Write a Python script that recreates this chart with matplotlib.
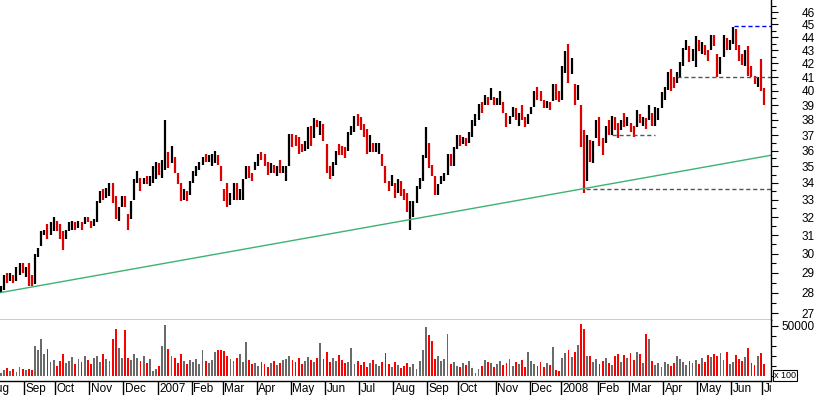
import numpy as np
import pandas as pd
import matplotlib
matplotlib.use("Agg")
import matplotlib.pyplot as plt
from matplotlib.ticker import FixedLocator, NullFormatter, FuncFormatter

plt.rcParams['font.family'] = ['Liberation Sans', 'DejaVu Sans']

# two-day bars, Aug 2006 - Jul 2008
close = [28.2, 28.8, 28.7, 28.8, 28.6, 29.2, 29.4, 29.1, 29.2, 28.6,
         28.5, 29.8, 30.2, 31.1, 31.2, 31.0, 31.5, 31.8, 31.4, 31.0,
         30.6, 31.1, 31.5, 31.6, 31.4, 31.6, 31.5, 31.9, 31.8, 31.5,
         31.7, 32.8, 33.4, 33.2, 33.5, 33.9, 33.0, 32.2, 32.4, 33.0,
         32.8, 31.6, 32.8, 34.0, 34.3, 33.8, 34.1, 34.0, 34.2, 34.8,
         34.9, 34.7, 35.2, 35.6, 35.2, 36.0, 34.8, 34.1, 33.2, 33.4,
         33.1, 34.0, 34.6, 34.9, 35.0, 35.5, 35.4, 35.6, 35.7, 35.9,
         35.3, 34.3, 33.2, 33.0, 33.2, 33.8, 33.3, 33.5, 34.0, 34.9,
         34.5, 34.3, 35.2, 35.7, 35.6, 35.3, 34.8, 35.0, 34.8, 34.9,
         34.7, 34.8, 34.9, 36.9, 36.8, 36.5, 36.1, 36.0, 36.5, 37.3,
         37.0, 38.0, 37.7, 37.8, 36.9, 35.0, 34.4, 35.1, 35.9, 35.8,
         35.7, 35.6, 37.0, 37.5, 38.2, 38.0, 37.5, 37.1, 36.2, 36.6,
         36.1, 36.2, 36.4, 35.2, 34.3, 33.8, 34.2, 33.4, 34.0, 33.6,
         33.2, 32.5, 32.7, 32.8, 33.7, 34.2, 35.5, 37.3, 35.2, 34.6,
         33.6, 33.8, 34.3, 34.5, 35.6, 35.3, 36.1, 36.9, 36.5, 36.7,
         36.4, 37.1, 37.9, 38.3, 39.0, 38.7, 39.6, 39.2, 40.0, 39.2,
         39.4, 39.9, 38.7, 37.8, 38.1, 38.8, 38.1, 38.3, 38.2, 37.7,
         38.3, 38.6, 39.9, 39.6, 39.4, 39.2, 39.3, 38.9, 40.4, 40.2,
         39.5, 41.6, 42.7, 42.0, 42.3, 39.3, 39.9, 36.6, 34.5, 36.4,
         35.6, 36.2, 37.7, 36.6, 36.0, 37.4, 37.3, 38.1, 37.6, 37.0,
         37.8, 37.7, 38.0, 37.5, 37.1, 38.5, 38.0, 38.1, 37.8, 38.3,
         37.9, 38.1, 38.6, 39.8, 40.2, 41.2, 40.5, 40.3, 41.2, 41.9,
         43.0, 43.6, 42.4, 42.8, 43.9, 43.2, 43.4, 42.8, 42.4, 44.0,
         43.5, 41.3, 42.3, 44.0, 43.4, 43.6, 44.6, 43.3, 42.5, 42.3,
         42.8, 41.4, 41.2, 40.8, 40.9, 40.5, 39.2]

high = [28.3, 28.9, 29.0, 29.0, 28.9, 29.3, 29.5, 29.5, 29.3, 29.5,
        28.9, 30.0, 30.3, 31.2, 31.3, 31.6, 31.7, 32.0, 31.8, 31.6,
        31.2, 31.3, 31.7, 31.8, 31.7, 31.8, 31.7, 32.0, 32.0, 31.8,
        31.9, 32.9, 33.5, 33.6, 33.7, 34.0, 34.0, 33.2, 32.6, 33.2,
        33.2, 32.2, 32.9, 34.2, 34.7, 34.3, 34.3, 34.4, 34.4, 35.0,
        35.3, 35.2, 35.4, 38.0, 35.9, 36.3, 35.6, 34.6, 34.0, 33.6,
        33.5, 34.1, 34.7, 35.0, 35.3, 35.6, 35.8, 35.7, 35.8, 36.0,
        35.7, 35.0, 33.6, 34.0, 33.4, 34.0, 34.0, 33.6, 34.2, 35.0,
        35.0, 34.6, 35.3, 35.8, 35.9, 35.8, 35.3, 35.2, 35.1, 35.0,
        35.4, 35.0, 35.0, 37.1, 37.1, 37.0, 36.9, 36.4, 36.6, 37.5,
        37.6, 38.1, 38.0, 37.9, 37.7, 36.4, 35.0, 35.3, 36.0, 36.4,
        36.3, 36.2, 37.2, 37.6, 38.3, 38.4, 38.2, 37.7, 37.4, 37.0,
        36.5, 36.5, 36.5, 35.8, 35.0, 34.1, 34.5, 34.0, 34.2, 34.1,
        33.6, 33.4, 32.9, 32.9, 33.8, 34.3, 35.7, 37.5, 36.5, 35.1,
        34.4, 33.9, 34.4, 34.6, 35.8, 35.8, 36.2, 37.0, 37.0, 36.9,
        36.8, 37.2, 38.0, 38.4, 39.1, 39.2, 39.7, 39.6, 40.2, 39.6,
        39.5, 40.0, 39.2, 38.5, 38.3, 38.9, 38.8, 38.5, 39.0, 38.2,
        38.4, 38.9, 40.0, 40.3, 40.0, 39.4, 39.3, 39.2, 40.5, 40.5,
        40.0, 41.8, 42.9, 43.5, 42.4, 40.5, 40.4, 39.0, 37.3, 37.0,
        36.7, 36.6, 38.0, 38.2, 36.8, 37.6, 38.0, 38.3, 38.2, 37.8,
        38.0, 38.5, 38.2, 37.8, 37.6, 38.7, 38.4, 38.2, 38.1, 39.0,
        38.5, 38.9, 38.8, 39.9, 40.3, 41.4, 41.6, 41.0, 41.4, 42.1,
        43.2, 43.8, 43.3, 43.1, 44.1, 43.8, 43.6, 43.4, 43.0, 44.2,
        44.2, 42.7, 42.5, 44.2, 43.9, 43.8, 44.8, 44.6, 43.4, 42.7,
        43.0, 43.3, 41.8, 41.1, 41.0, 42.3, 40.2]

low = [28.0, 28.1, 28.5, 28.6, 28.5, 28.6, 28.9, 29.0, 28.8, 28.3,
       28.3, 28.4, 29.8, 30.4, 31.0, 30.8, 31.0, 31.2, 31.2, 30.8,
       30.2, 30.8, 31.2, 31.3, 31.3, 31.4, 31.3, 31.6, 31.7, 31.4,
       31.5, 31.7, 32.8, 33.0, 33.1, 33.2, 32.8, 31.9, 31.8, 32.6,
       32.6, 31.3, 31.9, 33.0, 34.0, 33.5, 33.9, 33.9, 33.8, 34.0,
       34.2, 34.5, 34.3, 34.8, 34.9, 35.2, 34.6, 33.9, 32.9, 33.0,
       32.9, 33.3, 34.0, 34.4, 34.8, 35.1, 35.3, 35.3, 35.0, 35.2,
       35.1, 34.1, 32.9, 32.6, 32.7, 33.0, 33.0, 33.0, 33.0, 34.2,
       34.3, 34.1, 34.8, 35.0, 35.4, 35.0, 34.5, 34.6, 34.6, 34.4,
       34.6, 34.6, 34.1, 35.0, 36.2, 36.3, 35.8, 35.9, 36.0, 36.1,
       36.3, 36.8, 37.5, 37.0, 36.6, 34.6, 34.2, 34.4, 35.1, 35.7,
       35.7, 35.5, 36.0, 37.0, 37.2, 37.6, 37.3, 36.9, 35.8, 35.9,
       35.9, 35.9, 35.8, 35.0, 34.0, 33.5, 33.8, 33.1, 33.4, 33.2,
       33.0, 32.3, 31.3, 32.0, 32.8, 33.6, 34.1, 35.5, 34.9, 34.4,
       33.3, 33.3, 33.9, 34.1, 34.5, 35.0, 35.0, 36.1, 36.3, 36.4,
       36.3, 36.5, 36.9, 37.6, 38.0, 38.5, 39.0, 39.0, 39.4, 39.0,
       39.0, 39.0, 38.5, 37.5, 37.7, 38.2, 38.0, 37.6, 38.0, 37.5,
       37.7, 38.4, 38.9, 39.4, 39.3, 38.8, 38.8, 38.7, 39.3, 39.4,
       39.2, 39.4, 41.3, 40.6, 41.2, 39.0, 39.4, 36.2, 33.4, 34.1,
       35.3, 35.2, 36.8, 36.3, 35.7, 36.5, 37.0, 37.0, 37.3, 36.8,
       37.3, 37.5, 37.6, 37.2, 36.9, 37.5, 37.8, 37.6, 37.4, 38.0,
       37.6, 37.6, 38.0, 38.8, 39.4, 40.1, 40.0, 40.2, 40.6, 41.0,
       41.8, 43.0, 42.1, 42.2, 41.7, 42.9, 42.7, 42.6, 42.2, 43.0,
       43.3, 41.0, 41.2, 42.5, 43.0, 43.0, 43.5, 43.0, 42.2, 41.9,
       41.8, 41.1, 41.0, 40.5, 40.3, 40.0, 39.0]

# volume, in hundreds of shares
volume = [3000, 6000, 8000, 5000, 7000, 4000, 9000, 7000, 6000, 7000,
          6000, 30000, 26000, 37000, 22000, 27000, 14000, 16000, 10000, 15000,
          22000, 13000, 15000, 19000, 12000, 17000, 14000, 20000, 16000, 12000,
          18000, 20000, 14000, 22000, 17000, 15000, 37000, 47000, 28000, 18000,
          46000, 18000, 16000, 22000, 18000, 15000, 20000, 13000, 17000, 5000,
          7000, 10000, 30000, 51000, 27000, 20000, 18000, 13000, 22000, 15000,
          12000, 16000, 14000, 17000, 12000, 26000, 15000, 13000, 16000, 24000,
          26000, 26000, 25000, 20000, 17000, 15000, 18000, 22000, 14000, 34000,
          16000, 12000, 13000, 10000, 14000, 12000, 9000, 13000, 15000, 11000,
          13000, 16000, 17000, 20000, 16000, 14000, 18000, 12000, 15000, 19000,
          16000, 14000, 18000, 33000, 17000, 24000, 14000, 18000, 15000, 21000,
          16000, 13000, 14000, 28000, 12000, 15000, 11000, 14000, 9000, 13000,
          16000, 12000, 10000, 14000, 23000, 12000, 9000, 14000, 11000, 8000,
          10000, 13000, 9000, 12000, 7000, 15000, 26000, 49000, 41000, 35000,
          17000, 20000, 15000, 17000, 42000, 12000, 14000, 10000, 9000, 13000,
          11000, 15000, 8000, 3000, 7000, 10000, 16000, 14000, 13000, 9000,
          12000, 15000, 11000, 13000, 17000, 10000, 14000, 12000, 16000, 9000,
          24000, 15000, 12000, 10000, 14000, 9000, 13000, 11000, 29000, 6000,
          5000, 18000, 23000, 26000, 19000, 24000, 31000, 52000, 47000, 20000,
          20000, 14000, 17000, 12000, 15000, 18000, 13000, 11000, 20000, 22000,
          14000, 21000, 18000, 23000, 16000, 24000, 22000, 13000, 42000, 37000,
          15000, 11000, 13000, 9000, 14000, 12000, 10000, 13000, 20000, 17000,
          14000, 11000, 15000, 13000, 16000, 12000, 18000, 14000, 21000, 19000,
          22000, 20000, 23000, 16000, 24000, 12000, 14000, 21000, 17000, 15000,
          19000, 28000, 13000, 11000, 20000, 23000, 12000]

x_end = 248.3
# trend line and support / resistance levels (bar index, price)
trend_x = [0, x_end]
trend_y = [28.0, 35.7]
levels = [(218, x_end, 41.0, '#555555'),
          (197, 211, 37.0, '#555555'),
          (188.5, x_end, 33.65, '#555555'),
          (236.5, x_end, 44.85, '#0000ff')]

n = len(close)
idx = np.arange(n)
dates = pd.date_range("2006-08-11", periods=n, freq="2B")
close_a = np.array(close)
down = np.r_[False, close_a[1:] < close_a[:-1]]
price_col = np.where(down, '#dd0000', '#000000')
vol_col = np.where(down, '#ff0000', '#6a6a6a')

W, H = 817, 395
fig = plt.figure(figsize=(W / 100, H / 100), dpi=100)
right = 771 / W
ax = fig.add_axes([0, (H - 320) / H, right, 320 / H])
axv = fig.add_axes([0, 14 / H, right, 61 / H])
axd = fig.add_axes([0, 0, right, 14 / H])

xlim = (-0.3, x_end)

# price bars
ax.vlines(idx, low, high, colors=price_col, lw=1.6)
ax.plot(trend_x, trend_y, color='#3cb371', lw=1.0)
for x0, x1, y, c in levels:
    ax.plot([x0, x1], [y, y], color=c, lw=1.0, ls=(0, (3, 2)))
ax.set_yscale('log')
ax.set_ylim(26.67, 46.99)
ax.set_xlim(*xlim)
ax.yaxis.set_major_locator(FixedLocator(range(27, 47)))
ax.yaxis.set_minor_locator(FixedLocator(np.arange(27.5, 47, 1.0)))
ax.yaxis.set_major_formatter(FuncFormatter(lambda v, p: f"{v:.0f}"))
ax.yaxis.set_minor_formatter(NullFormatter())
ax.set_xticks([])

# volume bars
axv.bar(idx, volume, width=0.6, color=vol_col, linewidth=0)
axv.set_xlim(*xlim)
axv.set_ylim(-5000, 56000)
axv.yaxis.set_major_locator(FixedLocator([50000]))
axv.yaxis.set_minor_locator(FixedLocator([0, 10000, 20000, 30000, 40000]))
axv.yaxis.set_minor_formatter(NullFormatter())
axv.set_xticks([])

for a in (ax, axv):
    a.yaxis.tick_right()
    for s in ('top', 'left'):
        a.spines[s].set_visible(False)
    a.spines['right'].set_linewidth(1.0)
    a.spines['bottom'].set_linewidth(1.0)
    a.tick_params(axis='y', which='major', direction='out', length=5,
                  width=0.8, pad=26.5, labelsize=8.5)
    a.tick_params(axis='y', which='minor', direction='out', length=3.5,
                  width=0.8)
    for lbl in a.get_yticklabels():
        lbl.set_ha('right')

fig.text(774 / W, (H - 375.5) / H, 'x 100', fontsize=6.5, va='center',
         ha='left', bbox=dict(boxstyle='square,pad=0.15', fc='white',
                              ec='black', lw=0.8))

# month separators and labels
axd.set_xlim(*xlim)
axd.set_ylim(0, 1)
axd.axis('off')
first = dates[0]
lead = len(pd.bdate_range(first.replace(day=1), first - pd.Timedelta(days=1)))
starts = [(-lead / 2 - 0.5, first)]
for i in range(1, n):
    if dates[i].month != dates[i - 1].month:
        starts.append((i - 0.5, dates[i]))
for pos, d in starts:
    axd.axvline(pos, color='black', lw=1.0)
    label = d.strftime('%Y') if d.month == 1 else d.strftime('%b')
    axd.text(pos + 0.5, 0.45, label, fontsize=8.5, va='center', ha='left',
             clip_on=True)

fig.savefig('out.png', dpi=100, facecolor='white')
